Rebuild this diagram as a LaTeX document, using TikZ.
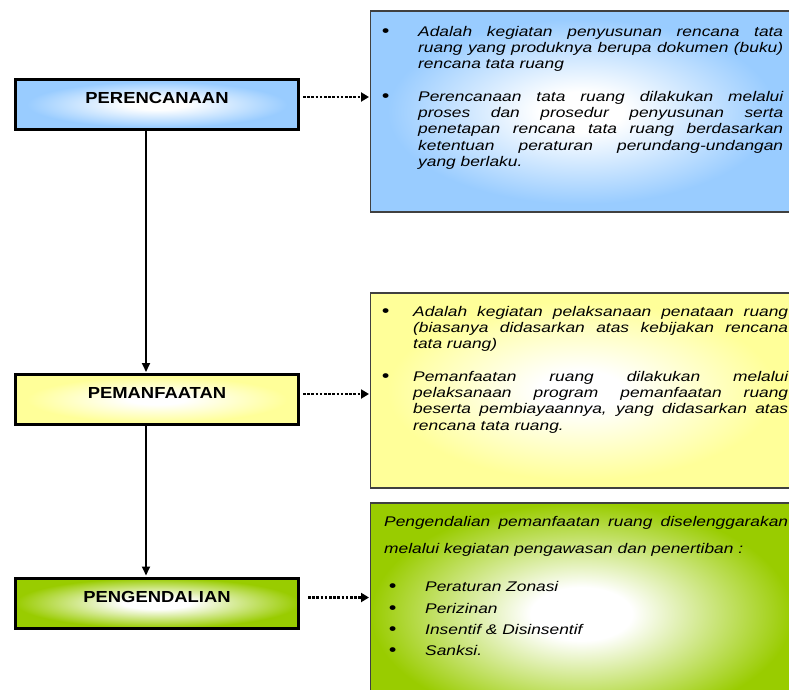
\documentclass[tikz,border=0pt]{standalone}
\usepackage{fontspec}
\setmainfont{Liberation Sans}[FakeStretch=1.24]
\newfontfamily\labelfont{Liberation Sans}[FakeStretch=1.15]
\usetikzlibrary{arrows.meta}
\definecolor{cblue}{HTML}{99CCFF}
\definecolor{cyellow}{HTML}{FFFF99}
\definecolor{cgreen}{HTML}{99CC00}
\pgfdeclareradialshading{blueglow}{\pgfpoint{0bp}{0bp}}{color(0bp)=(white); color(5bp)=(white); color(23bp)=(cblue); color(50bp)=(cblue)}
\pgfdeclareradialshading{yellowglow}{\pgfpoint{0bp}{0bp}}{color(0bp)=(white); color(5bp)=(white); color(23bp)=(cyellow); color(50bp)=(cyellow)}
\pgfdeclareradialshading{greenglow}{\pgfpoint{0bp}{0bp}}{color(0bp)=(white); color(6bp)=(white); color(25bp)=(cgreen); color(50bp)=(cgreen)}
\newcommand\mypar{\tolerance=10000\hyphenpenalty=10000\hbadness=10000\noindent\strut}
\newcommand\bul{{\fontsize{16.5}{16}\selectfont\upshape\textbf{•}}}
\begin{document}
\begin{tikzpicture}[x=1pt,y=-1pt,
  stage/.style={draw=black, line width=3pt, minimum width=283pt, minimum height=50pt,
    inner sep=0pt, font=\labelfont\fontsize{16}{18}\selectfont\bfseries, text depth=12.5pt},
  infobox/.style={draw=black!75, line width=1.2pt, inner sep=0pt, shade},
  para/.style={anchor=north west, inner sep=0pt, align=justify,
    font=\fontsize{14}{16.3}\selectfont\itshape},
  flow/.style={line width=1.8pt, -{Triangle[length=9pt,width=8pt]}, shorten >=1pt},
  dotarrow/.style={line width=2.5pt, dash pattern=on 2.5pt off 1.7pt,
    -{Triangle[length=8pt,width=9pt]}, shorten >=1pt}]
\useasboundingbox (0,0) rectangle (789,690);
\clip (0,0) rectangle (789,690);

% right-hand description boxes
\node[infobox, shading=blueglow, minimum width=421.4pt, minimum height=201pt] (blue) at (581.3,111.5) {};
\node[infobox, shading=yellowglow, minimum width=421.4pt, minimum height=195pt] (yellow) at (581.3,390.5) {};
\node[infobox, shading=greenglow, minimum width=421.4pt, minimum height=222pt] (green) at (581.3,614) {};

% left-hand stage boxes
\node[stage, shade, shading=blueglow] (perenc) at (157,104.5) {PERENCANAAN};
\node[stage, shade, shading=yellowglow] (pemanf) at (157,399.5) {PEMANFAATAN};
\node[stage, shade, shading=greenglow] (pengen) at (157,603) {PENGENDALIAN};

% vertical flow
\draw[flow] ([xshift=-11pt]perenc.south) -- ([xshift=-11pt]pemanf.north);
\draw[flow] ([xshift=-11pt]pemanf.south) -- ([xshift=-11pt]pengen.north);

% dotted arrows
\coordinate (d1) at ([xshift=3pt,yshift=7.5pt]perenc.east);
\coordinate (d2) at ([xshift=3pt,yshift=5.5pt]pemanf.east);
\coordinate (d3) at ([xshift=8pt,yshift=5.5pt]pengen.east);
\draw[dotarrow] (d1) -- (d1 -| blue.west);
\draw[dotarrow] (d2) -- (d2 -| yellow.west);
\draw[dotarrow] (d3) -- (d3 -| green.west);

% blue text
\node[para, text width=401pt] (bp1) at (382,24.6) {\mypar\hangindent=36pt\hangafter=1\makebox[36pt][l]{\bul}Adalah kegiatan penyusunan rencana tata\linebreak ruang yang produknya berupa dokumen (buku)\linebreak rencana tata ruang\par};
\node[para, text width=401pt] (bp2) at (382,89.6) {\mypar\hangindent=36pt\hangafter=1\makebox[36pt][l]{\bul}Perencanaan tata ruang dilakukan melalui\linebreak proses dan prosedur penyusunan serta\linebreak penetapan rencana tata ruang berdasarkan\linebreak ketentuan peraturan perundang-undangan\linebreak yang berlaku.\par};

% yellow text
\node[para, text width=406pt] (yp1) at (382,304.6) {\mypar\hangindent=31pt\hangafter=1\makebox[31pt][l]{\bul}Adalah kegiatan pelaksanaan penataan ruang\linebreak (biasanya didasarkan atas kebijakan rencana\linebreak tata ruang)\par};
\node[para, text width=406pt] (yp2) at (382,369.6) {\mypar\hangindent=31pt\hangafter=1\makebox[31pt][l]{\bul}Pemanfaatan ruang dilakukan melalui\linebreak pelaksanaan program pemanfaatan ruang\linebreak beserta pembiayaannya, yang didasarkan atas\linebreak rencana tata ruang.\par};

% green text
\node[para, text width=404pt, font=\fontsize{14}{27}\selectfont\itshape] (gp) at (384,507.1) {\mypar Pengendalian pemanfaatan ruang diselenggarakan\linebreak melalui kegiatan pengawasan dan penertiban :\par};
\node[anchor=north west, inner sep=0pt, align=left, font=\fontsize{14}{21.3}\selectfont\itshape] (gl) at (389,576.8) {\strut\makebox[36pt][l]{\bul}Peraturan Zonasi\\ \makebox[36pt][l]{\bul}Perizinan\\ \makebox[36pt][l]{\bul}Insentif \& Disinsentif\\ \makebox[36pt][l]{\bul}Sanksi.};
\end{tikzpicture}
\end{document}
